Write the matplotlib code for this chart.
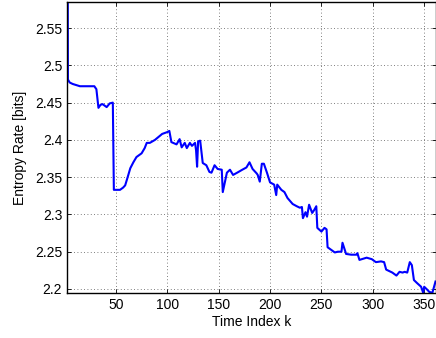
import matplotlib
matplotlib.use("Agg")
import matplotlib.pyplot as plt

plt.rcParams['font.family'] = ['Liberation Sans', 'DejaVu Sans']

# time index and entropy rate
time_k = [3, 3.3, 5, 8, 15, 29, 31, 33, 35, 37, 39, 41, 44, 47, 48, 54, 57, 59,
          61, 64, 67, 70, 75, 78, 80, 83, 88, 95, 100, 102, 104, 109, 112, 114,
          117, 119, 122, 124, 127, 128, 129, 130, 132, 134.5, 138, 141, 143,
          146, 149, 153, 154, 158, 161, 164, 168, 173, 177, 180, 183, 187, 188,
          190, 192, 194, 197, 200, 204, 206, 207, 211, 214, 217, 222, 226, 229,
          231, 232, 234.5, 236, 238, 241, 243, 245, 246, 250, 253, 255, 256,
          260, 263, 266, 269.5, 270.5, 274, 279, 284, 285, 287, 294, 299, 303,
          308, 311, 313, 319, 323, 326, 329, 331, 333.5, 336, 338, 340, 343,
          347, 349, 350, 353, 355, 358, 360, 361]
entropy = [2.70, 2.481, 2.477, 2.475, 2.472, 2.472, 2.468, 2.443, 2.447, 2.448,
           2.446, 2.444, 2.449, 2.450, 2.333, 2.333, 2.336, 2.339, 2.348, 2.362,
           2.370, 2.377, 2.382, 2.389, 2.396, 2.396, 2.400, 2.408, 2.4105, 2.412,
           2.397, 2.394, 2.401, 2.390, 2.396, 2.389, 2.396, 2.392, 2.396, 2.386,
           2.364, 2.398, 2.399, 2.369, 2.366, 2.357, 2.356, 2.366, 2.361, 2.360,
           2.330, 2.356, 2.360, 2.353, 2.356, 2.360, 2.363, 2.370, 2.361, 2.355,
           2.353, 2.344, 2.368, 2.368, 2.356, 2.343, 2.340, 2.326, 2.340, 2.333,
           2.330, 2.322, 2.314, 2.311, 2.309, 2.310, 2.295, 2.303, 2.297, 2.313,
           2.302, 2.306, 2.311, 2.282, 2.277, 2.282, 2.280, 2.256, 2.252, 2.249,
           2.250, 2.250, 2.262, 2.247, 2.246, 2.246, 2.248, 2.239, 2.242, 2.240,
           2.236, 2.237, 2.236, 2.226, 2.222, 2.218, 2.223, 2.222, 2.223, 2.222,
           2.236, 2.232, 2.212, 2.208, 2.203, 2.195, 2.203, 2.199, 2.196, 2.195,
           2.205, 2.210]

x_ticks = [50, 100, 150, 200, 250, 300, 350]
y_ticks = [2.2, 2.25, 2.3, 2.35, 2.4, 2.45, 2.5, 2.55]
y_ticklabels = ["2.2", "2.25", "2.3", "2.35", "2.4", "2.45", "2.5", "2.55"]

fig = plt.figure(figsize=(4.36, 3.38), dpi=100)
ax = fig.add_axes([67 / 436, 45 / 338, 1 - 67 / 436, 291 / 338])

ax.plot(time_k, entropy, color=(0, 0, 1), linewidth=1.5)

ax.set_xlim(2.4, 361.5)
ax.set_ylim(2.1946, 2.585)
ax.set_xticks(x_ticks)
ax.set_yticks(y_ticks)
ax.set_yticklabels(y_ticklabels)
ax.tick_params(direction="in", top=True, right=True, labelsize=10,
               length=3, width=0.6, colors="black")
ax.grid(True, linestyle=(0, (1, 3)), color="#555555", linewidth=0.6)
for sp in ax.spines.values():
    sp.set_linewidth(1.0)

ax.set_xlabel("Time Index k", fontsize=10, labelpad=2)
ax.set_ylabel("Entropy Rate [bits]", fontsize=10, labelpad=6)

fig.savefig("out.png", dpi=100)
